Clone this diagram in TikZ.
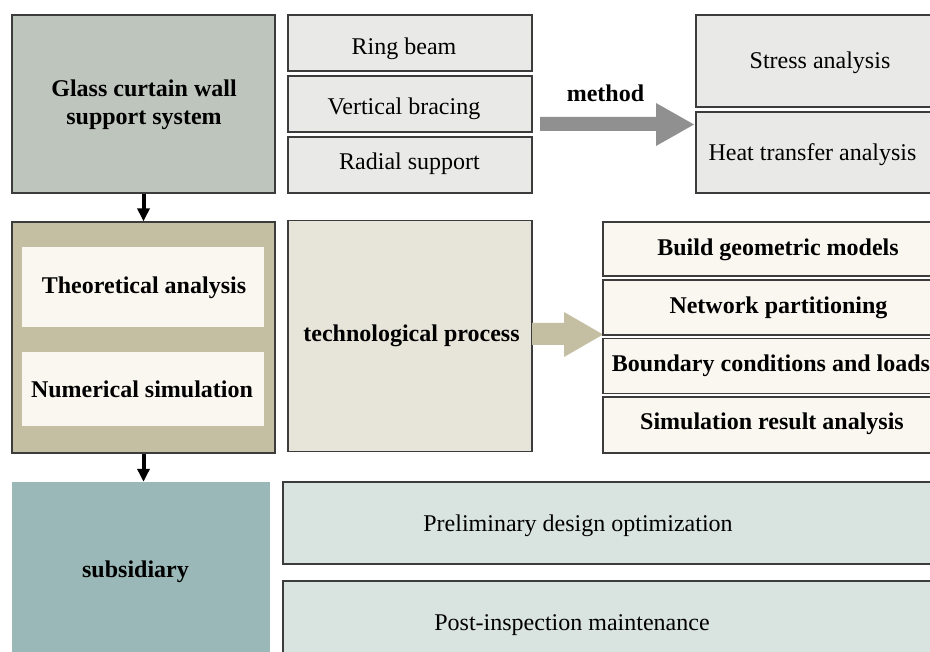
\documentclass[tikz,border=0pt]{standalone}
\usepackage{fontspec}
\setmainfont{Liberation Serif}
\usetikzlibrary{arrows.meta}
\definecolor{edge}{RGB}{60,60,60}
\definecolor{cA}{RGB}{190,197,189}
\definecolor{cSmall}{RGB}{233,234,231}
\definecolor{cArrowGray}{RGB}{144,144,144}
\definecolor{cB}{RGB}{196,191,163}
\definecolor{cWhite}{RGB}{249,247,240}
\definecolor{cC}{RGB}{231,229,218}
\definecolor{cD}{RGB}{154,184,183}
\definecolor{cE}{RGB}{217,227,224}
\begin{document}
\begin{tikzpicture}[x=1pt,y=-1pt,
  box/.style={draw=edge, line width=1.3pt, inner sep=0pt},
  plainbox/.style={inner sep=0pt},
  txt/.style={inner sep=0pt, anchor=base, font=\fontsize{24}{28}\selectfont},
  btxt/.style={txt, font=\fontsize{24}{28}\selectfont\bfseries},
  downarrow/.style={draw=black, line width=4pt, -{Triangle[length=13pt,width=12pt]}}
]
\useasboundingbox (0,0) rectangle (930,652);
\clip (0,0) rectangle (930,652);
\fill[white] (0,0) rectangle (930,652);

% Row 1
\node[box, fill=cA, minimum width=263pt, minimum height=178pt] (sys) at (143.5,104) {};
\node[btxt] (sys1) at (144,97) {Glass curtain wall};
\node[btxt] (sys2) at (144,125) {support system};
\node[box, fill=cSmall, minimum width=244pt, minimum height=56pt] (ring) at (410,43) {};
\node[box, fill=cSmall, minimum width=244pt, minimum height=56pt] (vert) at (410,104) {};
\node[box, fill=cSmall, minimum width=244pt, minimum height=56pt] (radial) at (410,165) {};
\node[txt] (ringtxt) at (404,55) {Ring beam};
\node[txt] (verttxt) at (404,115) {Vertical bracing};
\node[txt] (radialtxt) at (409.5,170) {Radial support};
\node[box, fill=cSmall, minimum width=248pt, minimum height=92pt] (stress) at (820,61) {};
\node[box, fill=cSmall, minimum width=248pt, minimum height=81pt] (heat) at (820,152.5) {};
\node[txt] (stresstxt) at (820,69) {Stress analysis};
\node[txt] (heattxt) at (812.5,161) {Heat transfer analysis};
\node[btxt] (methodlbl) at (605.5,102) {method};
\fill[cArrowGray] (540,117) -- (656,117) -- (656,103) -- (694,124.5) -- (656,146) -- (656,131) -- (540,131) -- cycle;

% Row 2
\node[box, fill=cB, minimum width=263pt, minimum height=231pt] (meth) at (143.5,337.5) {};
\node[plainbox, fill=cWhite, minimum width=242pt, minimum height=80pt] (theo) at (143,287) {};
\node[plainbox, fill=cWhite, minimum width=242pt, minimum height=74pt] (num) at (143,389) {};
\node[btxt] (theotxt) at (144,294) {Theoretical analysis};
\node[btxt] (numtxt) at (142,398) {Numerical simulation};
\node[box, fill=cC, minimum width=244pt, minimum height=231pt] (tech) at (410,336) {};
\node[btxt] (techtxt) at (411.5,342) {technological process};
\fill[cB] (532,323) -- (564,323) -- (564,312) -- (603,334.5) -- (564,357) -- (564,345) -- (532,345) -- cycle;
\node[box, fill=cWhite, minimum width=344pt, minimum height=54pt] (build) at (775,249) {};
\node[box, fill=cWhite, minimum width=344pt, minimum height=55pt] (mesh) at (775,307.5) {};
\node[box, fill=cWhite, minimum width=344pt, minimum height=55pt] (bound) at (775,366) {};
\node[box, fill=cWhite, minimum width=344pt, minimum height=56pt] (simres) at (775,425) {};
\node[btxt] (buildtxt) at (778,256) {Build geometric models};
\node[btxt] (meshtxt) at (778.5,314) {Network partitioning};
\node[btxt] (boundtxt) at (771,372) {Boundary conditions and loads};
\node[btxt] (simrestxt) at (772,430) {Simulation result analysis};

% Row 3
\node[plainbox, fill=cD, minimum width=258pt, minimum height=190pt] (sub) at (141,577) {};
\node[btxt] (subtxt) at (135.5,577) {subsidiary};
\node[box, fill=cE, minimum width=680pt, minimum height=82pt] (pre) at (623,523) {};
\node[txt] (pretxt) at (578,532) {Preliminary design optimization};
\node[box, fill=cE, minimum width=680pt, minimum height=100pt] (post) at (623,631) {};
\node[txt] (posttxt) at (572,630) {Post-inspection maintenance};

% Connectors
\draw[downarrow] (sys.south) -- (meth.north);
\draw[downarrow] (meth.south) -- (meth.south |- sub.north);
\end{tikzpicture}
\end{document}
